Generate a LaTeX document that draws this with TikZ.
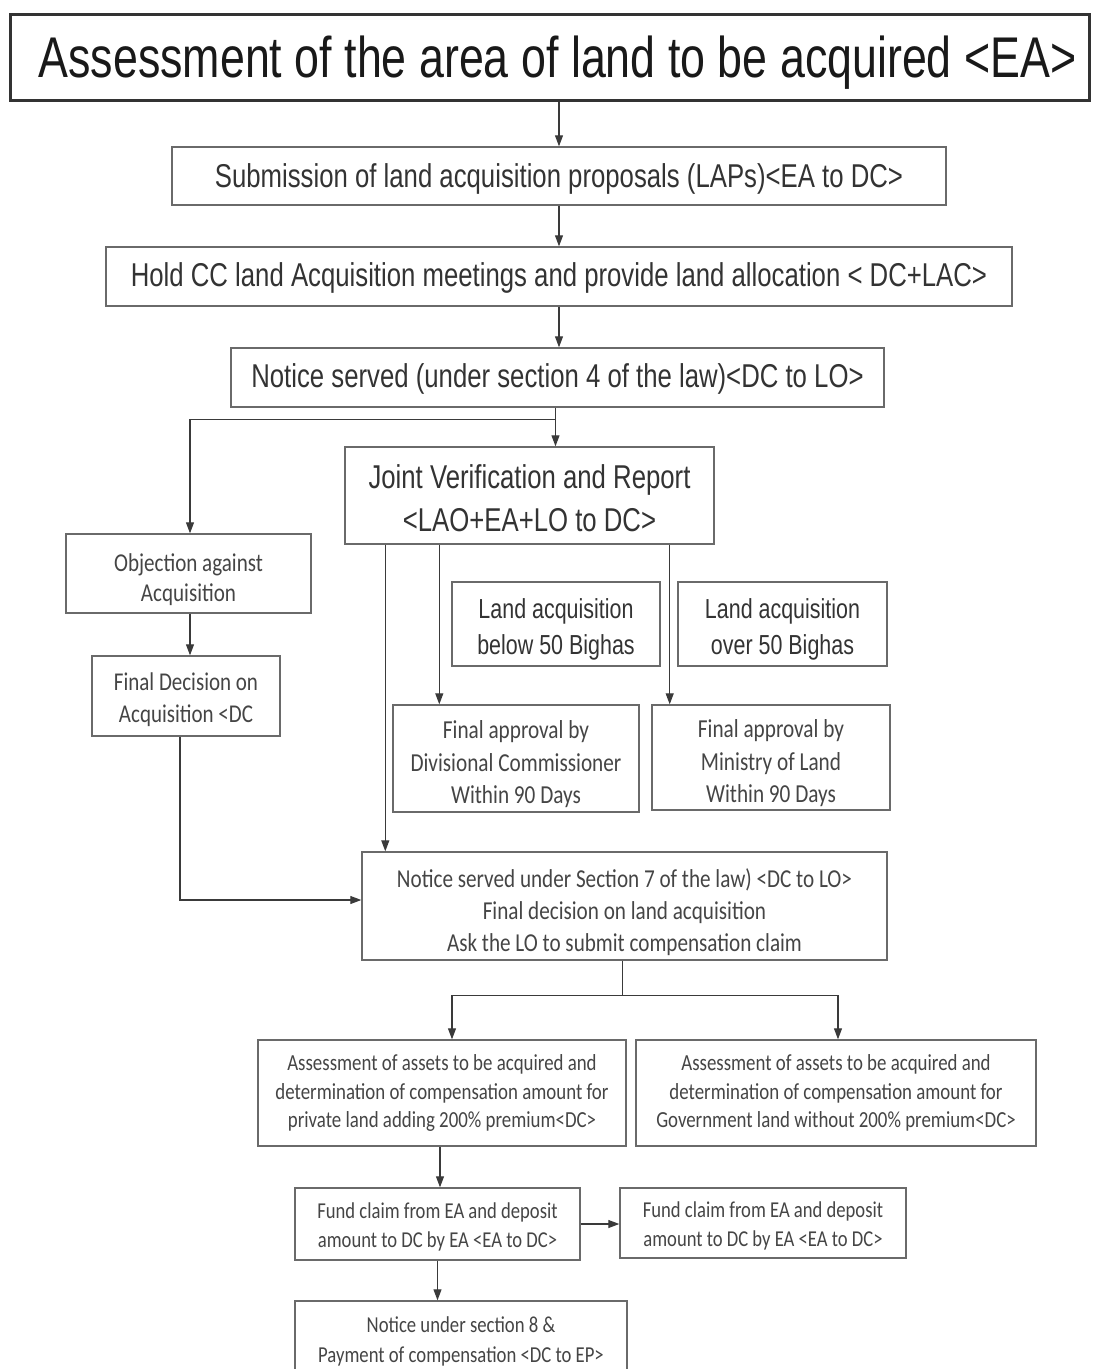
\documentclass[tikz,border=0pt]{standalone}
\usepackage{fontspec}
\usetikzlibrary{arrows.meta,calc}
\newfontfamily\narfont[FakeStretch=0.78]{Liberation Sans}
\newfontfamily\calfont[FakeStretch=0.82]{Carlito}
\definecolor{boxgray}{HTML}{6A6A6A}
\definecolor{txtgray}{HTML}{333333}
\definecolor{caltxt}{HTML}{454545}
\definecolor{arrgray}{HTML}{3A3A3A}
\begin{document}
\begin{tikzpicture}[x=1pt,y=-1pt,
  box/.style={draw=boxgray, line width=1.4pt, inner sep=0pt},
  txt/.style={inner sep=0pt, align=center, text=txtgray},
  caltxt/.style={txt, text=caltxt},
  arr/.style={draw=arrgray, line width=1.1pt, -{Triangle[length=11pt,width=8pt]}},
  plain/.style={draw=arrgray, line width=1.1pt}]
\useasboundingbox[fill=white] (0,0) rectangle (1093,1369);

% boxes
\node[box, draw=black!80, line width=3pt, minimum width=1079pt, minimum height=86pt] (title) at (549.5,57) {};
\node[box, minimum width=774pt, minimum height=58pt] (sub) at (559,176) {};
\node[box, minimum width=906pt, minimum height=59pt] (hold) at (559,276.5) {};
\node[box, minimum width=653pt, minimum height=59pt] (n4) at (557.5,377.5) {};
\node[box, minimum width=369pt, minimum height=97pt] (joint) at (529.5,495.5) {};
\node[box, minimum width=245pt, minimum height=79pt] (obj) at (188.5,573.5) {};
\node[box, minimum width=208pt, minimum height=84pt] (below) at (556,624) {};
\node[box, minimum width=209pt, minimum height=84pt] (over) at (782.5,624) {};
\node[box, minimum width=188pt, minimum height=80pt] (fdec) at (186,696) {};
\node[box, minimum width=246pt, minimum height=107pt] (fadc) at (516,758.5) {};
\node[box, minimum width=238pt, minimum height=105pt] (faml) at (771,757.5) {};
\node[box, minimum width=525pt, minimum height=108pt] (n7) at (624.5,906) {};
\node[box, minimum width=368pt, minimum height=106pt] (asp) at (442,1093) {};
\node[box, minimum width=400pt, minimum height=106pt] (asg) at (836,1093) {};
\node[box, minimum width=285pt, minimum height=72pt] (fl) at (437.5,1224) {};
\node[box, minimum width=286pt, minimum height=70pt] (fr) at (763,1223) {};
\node[box, minimum width=332pt, minimum height=78pt] (n8) at (461,1340) {};

% texts
\node[txt, text=black!90, font=\narfont\fontsize{57.4}{60}\selectfont] (title-t) at ([xshift=8pt,yshift=-6pt]title.center)
  {Assessment of the area of land to be acquired <EA>};
\node[txt, font=\narfont\fontsize{33}{40}\selectfont] (sub-t) at ([yshift=-3pt]sub.center)
  {Submission of land acquisition proposals (LAPs)<EA to DC>};
\node[txt, font=\narfont\fontsize{33}{38}\selectfont] (hold-t) at ([yshift=-1pt]hold.center)
  {Hold CC land Acquisition meetings and provide land allocation < DC+LAC>};
\node[txt, font=\narfont\fontsize{33}{38}\selectfont] (n4-t) at ([yshift=-1pt]n4.center)
  {Notice served (under section 4 of the law)<DC to LO>};
\node[txt, font=\narfont\fontsize{33}{43}\selectfont] (joint-t) at ([yshift=-3pt]joint.center)
  {Joint Verification and Report\\<LAO+EA+LO to DC>};
\node[caltxt, font=\calfont\fontsize{25.7}{30}\selectfont] (obj-t) at ([yshift=-6pt]obj.center)
  {Objection against\\Acquisition};
\node[txt, font=\narfont\fontsize{27.5}{36}\selectfont] (below-t) at ([yshift=-5pt]below.center)
  {Land acquisition\\below 50 Bighas};
\node[txt, font=\narfont\fontsize{27.5}{36}\selectfont] (over-t) at ([yshift=-5pt]over.center)
  {Land acquisition\\over 50 Bighas};
\node[caltxt, font=\calfont\fontsize{25.6}{32}\selectfont] (fdec-t) at ([yshift=-4pt]fdec.center)
  {Final Decision on\\Acquisition <DC};
\node[caltxt, font=\calfont\fontsize{25.9}{32.5}\selectfont] (fadc-t) at ([yshift=-6pt]fadc.center)
  {Final approval by\\Divisional Commissioner\\Within 90 Days};
\node[caltxt, font=\calfont\fontsize{25.9}{32.5}\selectfont] (faml-t) at ([yshift=-6pt]faml.center)
  {Final approval by\\Ministry of Land\\Within 90 Days};
\node[caltxt, font=\calfont\fontsize{25.8}{32}\selectfont] (n7-t) at ([yshift=-6pt]n7.center)
  {Notice served under Section 7 of the law) <DC to LO>\\Final decision on land acquisition\\Ask the LO to submit compensation claim};
\node[caltxt, font=\calfont\fontsize{23}{28.5}\selectfont] (asp-t) at (asp.center)
  {Assessment of assets to be acquired and\\determination of compensation amount for\\private land adding 200\% premium<DC>};
\node[caltxt, font=\calfont\fontsize{23}{28.5}\selectfont] (asg-t) at (asg.center)
  {Assessment of assets to be acquired and\\determination of compensation amount for\\Government land without 200\% premium<DC>};
\node[caltxt, font=\calfont\fontsize{22.7}{29}\selectfont] (fl-t) at ([yshift=-3pt]fl.center)
  {Fund claim from EA and deposit\\amount to DC by EA <EA to DC>};
\node[caltxt, font=\calfont\fontsize{22.7}{29}\selectfont] (fr-t) at ([yshift=-3pt]fr.center)
  {Fund claim from EA and deposit\\amount to DC by EA <EA to DC>};
\node[caltxt, font=\calfont\fontsize{22.8}{30}\selectfont] (n8-t) at ([yshift=-1pt]n8.center)
  {Notice under section 8 \&\\Payment of compensation <DC to EP>};

% connectors
\draw[arr] (sub.north |- title.south) -- (sub.north);
\draw[arr] (sub.south) -- (hold.north);
\draw[arr] (hold.south) -- (hold.south |- n4.north);
\draw[arr] ([xshift=-2pt]n4.south) -- ([xshift=-2pt]n4.south |- joint.north);
\draw[arr] ([xshift=-2pt,yshift=-12pt]n4.south) -| ([xshift=1.5pt]obj.north);
\draw[arr] ([xshift=1.5pt]obj.south) -- ([xshift=1.5pt]obj.south |- fdec.north);
\draw[arr] ([xshift=-6pt]fdec.south) |- ([yshift=6pt]n7.west);
\draw[arr] ([xshift=41pt]joint.south west) -- ([xshift=41pt]joint.south west |- n7.north);
\draw[arr] ([xshift=95pt]joint.south west) -- ([xshift=95pt]joint.south west |- fadc.north);
\draw[arr] ([xshift=-45pt]joint.south east) -- ([xshift=-45pt]joint.south east |- faml.north);
\draw[plain] ([xshift=-2pt]n7.south) -- ++(0,35) coordinate (split);
\draw[arr] (split) -| ([xshift=10pt]asp.north);
\draw[arr] (split) -| ([xshift=2pt]asg.north);
\draw[arr] ([xshift=-2pt]asp.south) -- ([xshift=-2pt]asp.south |- fl.north);
\draw[arr] (fl.east) -- (fl.east -| fr.west);
\draw[arr] (fl.south) -- (fl.south |- n8.north);
\end{tikzpicture}
\end{document}
